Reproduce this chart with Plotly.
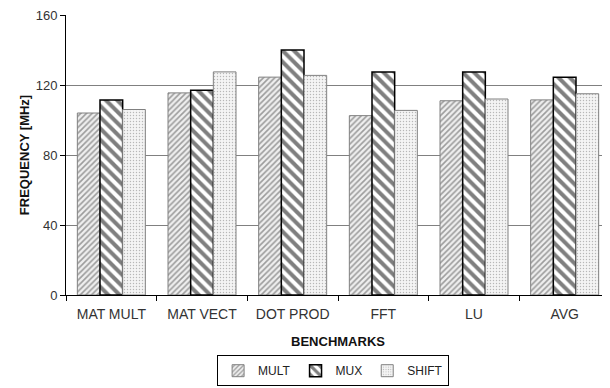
import plotly.graph_objects as go

categories = ["MAT MULT", "MAT VECT", "DOT PROD", "FFT", "LU", "AVG"]
mult = [104, 115.5, 124.5, 102.5, 111, 111.5]
mux = [111.5, 117, 140, 127.5, 127.5, 124.5]
shift = [106, 127.5, 125.5, 105.5, 112, 115]
y_ticks = [0, 40, 80, 120, 160]

FONT = "Liberation Sans, Arial, sans-serif"

fig = go.Figure()
fig.add_trace(go.Bar(
    name="MULT", x=categories, y=mult,
    marker=dict(color="white",
                line=dict(color="#808080", width=1),
                pattern=dict(shape="/", fgcolor="#4a4a4a", bgcolor="#efefef",
                             size=4, solidity=0.4)),
))
fig.add_trace(go.Bar(
    name="MUX", x=categories, y=mux,
    marker=dict(color="white",
                line=dict(color="black", width=1.5),
                pattern=dict(shape="\\", fgcolor="black", bgcolor="white",
                             size=8, solidity=0.5)),
))
fig.add_trace(go.Bar(
    name="SHIFT", x=categories, y=shift,
    marker=dict(color="white",
                line=dict(color="#808080", width=1),
                pattern=dict(shape=".", fgcolor="#7a7a7a", bgcolor="#f4f4f4",
                             size=3, solidity=0.18)),
))

# page body has an 8px default margin, so the figure is 8px smaller
fig.update_layout(
    width=602, height=380, autosize=False,
    margin=dict(l=58, r=0, t=7, b=93, autoexpand=False),
    paper_bgcolor="white", plot_bgcolor="white",
    font=dict(family=FONT, size=13, color="#222"),
    barmode="group", bargap=0.25, bargroupgap=0,
    showlegend=True,
    legend=dict(orientation="h", x=0.491, xanchor="center", y=-0.215, yanchor="top",
                bordercolor="black", borderwidth=1, bgcolor="white",
                font=dict(family=FONT, size=12, color="#222"),
                itemwidth=30, tracegroupgap=0),
    xaxis=dict(
        title=dict(text="<b>BENCHMARKS</b>", font=dict(family=FONT, size=13, color="#111"), standoff=16),
        showline=True, linecolor="black", linewidth=1,
        ticks="outside", tickson="boundaries", ticklen=5, tickcolor="black",
        ticklabelstandoff=6,
        showgrid=False, tickfont=dict(family=FONT, size=14, color="#333"),
    ),
    yaxis=dict(
        title=dict(text="<b>FREQUENCY [MHz]</b>", font=dict(family=FONT, size=13, color="#111"), standoff=3),
        range=[0, 160], tickvals=y_ticks,
        showline=True, linecolor="black", linewidth=1,
        ticks="outside", ticklen=5, tickcolor="black",
        showgrid=True, gridcolor="#808080", gridwidth=1,
        zeroline=False, ticklabeloverflow="allow",
        tickfont=dict(family=FONT, size=13, color="#333"),
    ),
)

fig.write_html("out.html")
